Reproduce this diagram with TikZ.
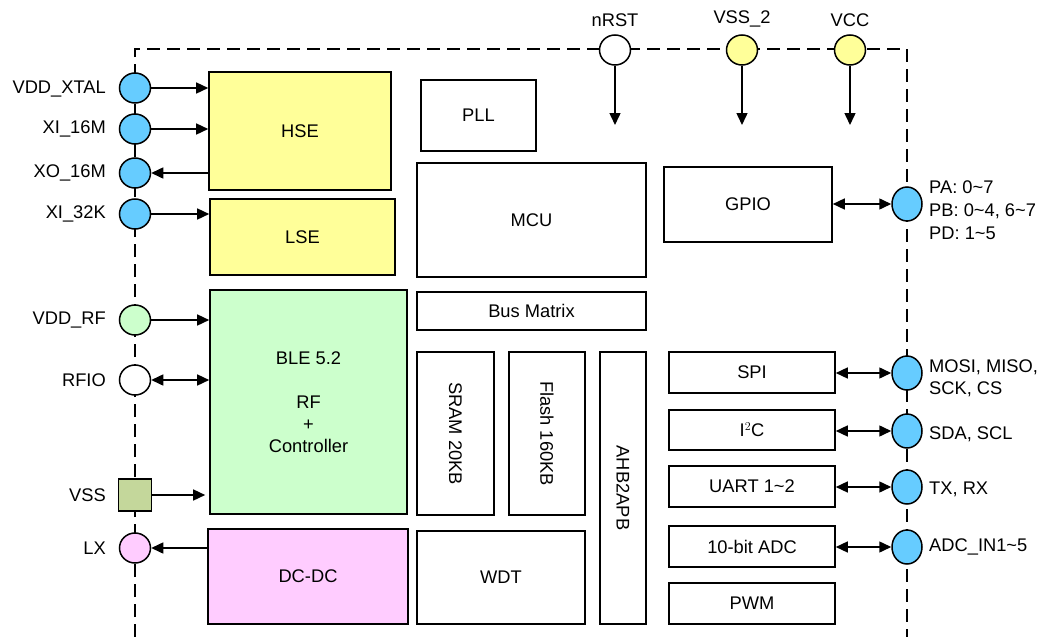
\documentclass[tikz,border=0pt]{standalone}
\usepackage{fontspec}
\setmainfont{Liberation Sans}
\usetikzlibrary{shapes.geometric,arrows.meta}
\tikzset{
  box/.style={draw=black, line width=1.6pt, inner sep=0pt, font=\fontsize{18.3}{22}\selectfont, align=center},
  pin/.style={draw=black, line width=1.5pt, ellipse, minimum width=31pt, minimum height=30pt, inner sep=0pt},
  bluepin/.style={pin, fill=pinblue},
  lbl/.style={font=\fontsize{18.3}{22}\selectfont, inner sep=0pt},
  arr/.style={line width=1.5pt, -{Triangle[length=12pt,width=11pt]}},
  dbl/.style={line width=1.5pt, {Triangle[length=12pt,width=11pt]}-{Triangle[length=12pt,width=11pt]}},
  border/.style={line width=1.6pt, dash pattern=on 13pt off 7pt},
}
\definecolor{pinblue}{HTML}{66CCFF}
\definecolor{yel}{HTML}{FFFF99}
\definecolor{grn}{HTML}{CCFFCC}
\definecolor{pnk}{HTML}{FFCCFF}
\definecolor{olive}{HTML}{C4D79B}
\begin{document}
\begin{tikzpicture}[x=1pt,y=-1pt]
\useasboundingbox (0,0) rectangle (1045,637);
% dashed chip border
\coordinate (bl) at (135,637);
\coordinate (tl) at (135,49);
\coordinate (tr) at (907,49);
\coordinate (br) at (907,637);
\draw[border] (bl) -- (tl) -- (tr) -- (br);

% left blocks
\node[box, fill=yel, minimum width=182pt, minimum height=118pt] (hse) at (300,131) {HSE};
\node[box, fill=yel, minimum width=185pt, minimum height=76pt] (lse) at (302.5,237) {LSE};
\node[box, fill=grn, minimum width=197pt, minimum height=224pt] (ble) at (308.5,402) {BLE 5.2\\[22pt]RF\\+\\Controller};
\node[box, fill=pnk, minimum width=200pt, minimum height=95pt] (dcdc) at (308,576.5) {DC-DC};

% middle blocks
\node[box, minimum width=115pt, minimum height=71pt] (pll) at (478.5,115.5) {PLL};
\node[box, minimum width=229pt, minimum height=114pt] (mcu) at (531.5,220) {MCU};
\node[box, minimum width=229pt, minimum height=38pt] (bus) at (531.5,311) {Bus Matrix};
\node[box, minimum width=77pt, minimum height=163pt] (sram) at (455.5,433.5) {};
\node[lbl, rotate=-90] (sramt) at (sram.center) {SRAM 20KB};
\node[box, minimum width=76pt, minimum height=163pt] (flash) at (547,433.5) {};
\node[lbl, rotate=-90] (flasht) at (flash.center) {Flash 160KB};
\node[box, minimum width=46pt, minimum height=272pt] (ahb) at (623,488) {};
\node[lbl, rotate=-90] (ahbt) at (ahb.center) {AHB2APB};
\node[box, minimum width=168pt, minimum height=93pt] (wdt) at (501,577.5) {WDT};

% right blocks
\node[box, minimum width=168pt, minimum height=75pt] (gpio) at (748,204.5) {GPIO};
\node[box, minimum width=166pt, minimum height=41pt] (spi) at (752,372.5) {SPI};
\node[box, minimum width=166pt, minimum height=40pt] (i2c) at (752,430) {I$^2$C};
\node[box, minimum width=166pt, minimum height=41pt] (uart) at (752,486.5) {UART 1\textasciitilde 2};
\node[box, minimum width=166pt, minimum height=41pt] (adc) at (752,546.5) {10-bit ADC};
\node[box, minimum width=166pt, minimum height=41pt] (pwm) at (752,603.5) {PWM};

% left pins
\node[bluepin] (pxtal) at (135,88) {};
\node[bluepin] (pxi16) at (135,129) {};
\node[bluepin] (pxo16) at (135,173) {};
\node[bluepin] (pxi32) at (135,214) {};
\node[pin, fill=grn] (pvddrf) at (135,320) {};
\node[pin, fill=white] (prfio) at (135,380) {};
\node[draw=black, line width=1.5pt, fill=olive, minimum width=33pt, minimum height=32pt, inner sep=0pt] (pvss) at (135,495) {};
\node[pin, fill=pnk] (plx) at (135,548) {};

\node[lbl, anchor=east] (lxtal) at (106,89) {VDD\_XTAL};
\node[lbl, anchor=east] (lxi16) at (106,129) {XI\_16M};
\node[lbl, anchor=east] (lxo16) at (106,173) {XO\_16M};
\node[lbl, anchor=east] (lxi32) at (106,214) {XI\_32K};
\node[lbl, anchor=east] (lvddrf) at (106,320) {VDD\_RF};
\node[lbl, anchor=east] (lrfio) at (106,380) {RFIO};
\node[lbl, anchor=east] (lvss) at (106,495) {VSS};
\node[lbl, anchor=east] (llx) at (106,548) {LX};

\draw[arr] (pxtal) -- (pxtal -| hse.west);
\draw[arr] (pxi16) -- (pxi16 -| hse.west);
\draw[arr] (pxo16 -| hse.west) -- (pxo16);
\draw[arr] (pxi32) -- (pxi32 -| lse.west);
\draw[arr] (pvddrf) -- (pvddrf -| ble.west);
\draw[dbl] (prfio) -- (prfio -| ble.west);
\draw[arr] (pvss) -- ([xshift=-4pt]pvss -| ble.west);
\draw[arr] (plx -| dcdc.west) -- (plx);

% top pins
\node[pin, fill=white] (prst) at (615,50) {};
\node[pin, fill=yel] (pvss2) at (742,50) {};
\node[pin, fill=yel] (pvcc) at (850,50) {};
\node[lbl, anchor=south] (lrst) at (615,27) {nRST};
\node[lbl, anchor=south] (lvss2) at (742,27) {VSS\_2};
\node[lbl, anchor=south] (lvcc) at (850,27) {VCC};
\coordinate (erst) at (615,125);
\coordinate (evss2) at (742,125);
\coordinate (evcc) at (850,125);
\draw[arr] (prst) -- (erst);
\draw[arr] (pvss2) -- (evss2);
\draw[arr] (pvcc) -- (evcc);

% right pins
\node[bluepin, minimum width=30pt, minimum height=34pt] (pgpio) at (907,204) {};
\node[bluepin, minimum width=30pt, minimum height=34pt] (pspi) at (907,373) {};
\node[bluepin, minimum width=30pt, minimum height=34pt] (pi2c) at (907,431) {};
\node[bluepin, minimum width=30pt, minimum height=34pt] (puart) at (907,487) {};
\node[bluepin, minimum width=30pt, minimum height=34pt] (padc) at (907,547) {};

\draw[dbl] (pgpio -| gpio.east) -- (pgpio);
\draw[dbl] (pspi -| spi.east) -- (pspi);
\draw[dbl] (pi2c -| i2c.east) -- (pi2c);
\draw[dbl] (puart -| uart.east) -- (puart);
\draw[dbl] (padc -| adc.east) -- (padc);

\node[lbl, anchor=west, align=left, font=\fontsize{18.3}{23}\selectfont] (lgpio) at (929,210) {PA: 0\textasciitilde 7\\PB: 0\textasciitilde 4, 6\textasciitilde 7\\PD: 1\textasciitilde 5};
\node[lbl, anchor=west, align=left, font=\fontsize{18.3}{22}\selectfont] (lspi) at (929,378) {MOSI, MISO,\\SCK, CS};
\node[lbl, anchor=west] (li2c) at (929,434) {SDA, SCL};
\node[lbl, anchor=west] (luart) at (929,489) {TX, RX};
\node[lbl, anchor=west] (ladc) at (929,547) {ADC\_IN1\textasciitilde 5};
\end{tikzpicture}
\end{document}
